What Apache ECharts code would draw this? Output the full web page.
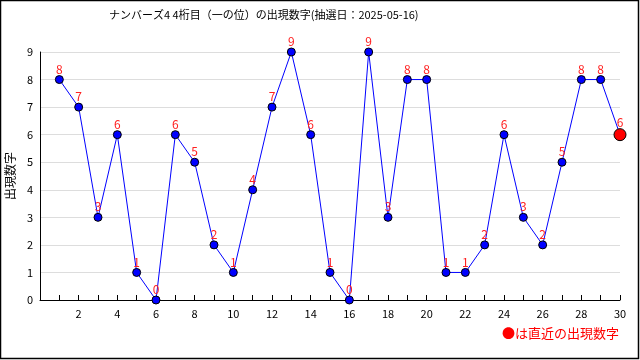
<!DOCTYPE html>
<html>
<head>
<meta charset="utf-8">
<script src="https://cdn.jsdelivr.net/npm/echarts@6/dist/echarts.min.js"></script>
<style>html,body{margin:0;padding:0;background:#fff}#c{width:640px;height:360px}</style>
</head>
<body>
<div id="c"></div>
<script>
const draws = [1,2,3,4,5,6,7,8,9,10,11,12,13,14,15,16,17,18,19,20,21,22,23,24,25,26,27,28,29,30];
const digits = [8,7,3,6,1,0,6,5,2,1,4,7,9,6,1,0,9,3,8,8,1,1,2,6,3,2,5,8,8,6];
const titleText = 'ナンバーズ4 4桁目（一の位）の出現数字(抽選日：2025-05-16)';
const yName = '出現数字';
const noteText = '●は直近の出現数字';

const font = "'Noto Sans CJK JP', sans-serif";
const data = draws.map((d, i) => {
  const p = { value: [d, digits[i]] };
  if (i === draws.length - 1) {
    p.symbolSize = 12;
    p.itemStyle = { color: '#ff0000', borderColor: '#000', borderWidth: 1 };
  }
  return p;
});

const chart = echarts.init(document.getElementById('c'));
chart.setOption({
  animation: false,
  backgroundColor: '#fff',
  title: {
    text: titleText, left: 104, top: 4,
    textStyle: { fontSize: 11, fontWeight: 'normal', color: '#000', fontFamily: font }
  },
  grid: { left: 40, right: 20, top: 52, bottom: 60, containLabel: false, outerBoundsMode: 'none' },
  xAxis: {
    type: 'value', min: 0, max: 30, interval: 1,
    axisLine: { show: true, lineStyle: { color: '#000', width: 1 } },
    axisTick: { show: true, inside: true, length: 5, lineStyle: { color: '#000' } },
    axisLabel: {
      color: '#000', fontSize: 11, fontFamily: font, margin: 8, hideOverlap: false,
      formatter: v => (v > 0 && v % 2 === 0) ? String(v) : ''
    },
    splitLine: { show: false }
  },
  yAxis: {
    type: 'value', min: 0, max: 9, interval: 1,
    name: yName, nameLocation: 'middle', nameGap: 22, nameRotate: 90,
    nameTextStyle: { color: '#000', fontSize: 12, fontFamily: font },
    axisLine: { show: true, lineStyle: { color: '#000', width: 1 } },
    axisTick: { show: false },
    axisLabel: { color: '#000', fontSize: 11, fontFamily: font, margin: 7 },
    splitLine: { show: true, lineStyle: { color: '#dddddd', width: 1 } }
  },
  series: [{
    type: 'line',
    data: data,
    symbol: 'circle',
    symbolSize: 8,
    lineStyle: { color: '#0000ff', width: 1 },
    itemStyle: { color: '#0000ff', borderColor: '#000', borderWidth: 1 },
    label: {
      show: true, position: 'top', distance: 0,
      color: '#ff2020', fontSize: 12, fontFamily: font,
      formatter: p => String(p.value[1])
    },
    z: 3
  }],
  graphic: [
    {
      type: 'rect', shape: { x: 0.5, y: 0.5, width: 638, height: 358 },
      style: { fill: 'none', stroke: '#000', lineWidth: 1.5 }, silent: true
    },
    {
      type: 'text', left: 502, top: 327,
      style: { text: noteText, fill: '#ff0000', fontSize: 13, fontFamily: font }
    }
  ]
});
</script>
</body>
</html>
